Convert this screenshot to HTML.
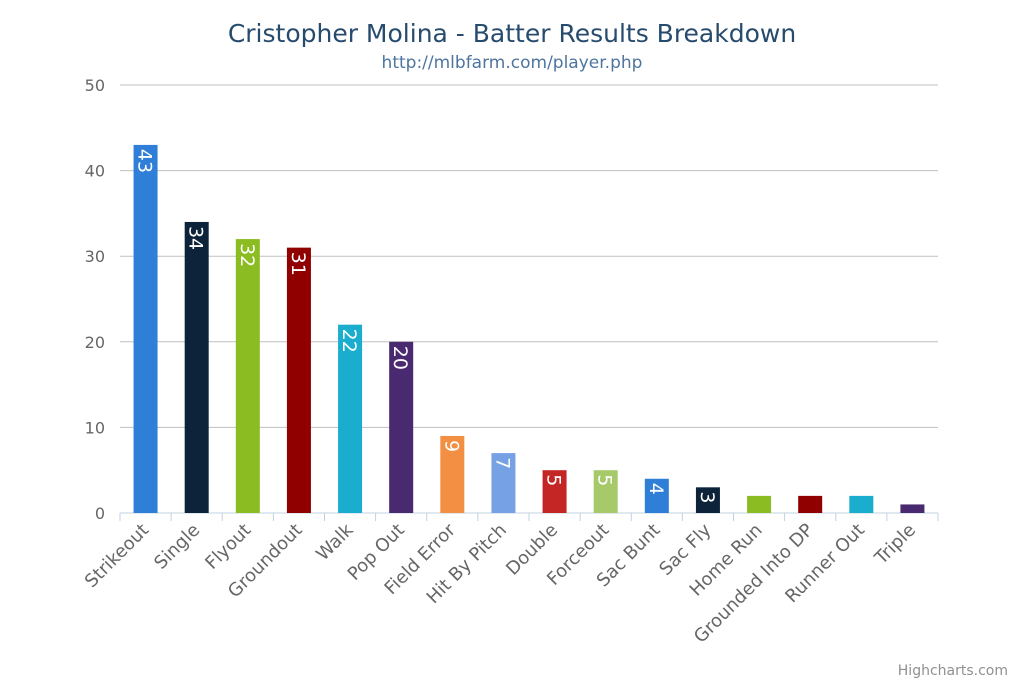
<!DOCTYPE html>
<html><head><meta charset="utf-8"><style>
body{margin:0;background:#fff;}
svg text{font-family:"DejaVu Sans","Liberation Sans",sans-serif;}
</style></head><body>
<svg id="chart" width="1024" height="682" xmlns="http://www.w3.org/2000/svg">
<defs><clipPath id="plotclip"><rect x="120" y="80" width="820" height="433"/></clipPath></defs>
<text x="512" y="42" text-anchor="middle" font-size="25" fill="#274b6d">Cristopher Molina - Batter Results Breakdown</text>
<text x="512" y="68" text-anchor="middle" font-size="17" fill="#4d759e">http://mlbfarm.com/player.php</text>
<g id="grid"></g><g id="bars"></g><g id="labels" clip-path="url(#plotclip)"></g><g id="xlabels"></g>
<text x="1008" y="675" text-anchor="end" font-size="14" fill="#909090">Highcharts.com</text>
</svg>
<script>
const categories=["Strikeout","Single","Flyout","Groundout","Walk","Pop Out","Field Error","Hit By Pitch","Double","Forceout","Sac Bunt","Sac Fly","Home Run","Grounded Into DP","Runner Out","Triple"];
const values=[43,34,32,31,22,20,9,7,5,5,4,3,2,2,2,1];
const yTicks=[0,10,20,30,40,50];
const colors=["#2f7ed8","#0d233a","#8bbc21","#910000","#1aadce","#492970","#f28f43","#77a1e5","#c42525","#a6c96a"];
const NS="http://www.w3.org/2000/svg";
const L=120,R=938,T=85,B=513,ymax=50;
const y=v=>B-(v/ymax)*(B-T);
const bw=(R-L)/categories.length;
const x=i=>L+bw*(i+0.5);
function mk(t,a,p){const e=document.createElementNS(NS,t);for(const k in a)e.setAttribute(k,a[k]);p.appendChild(e);return e;}
const g=document.getElementById('grid');
yTicks.forEach(v=>{
  const l=mk('line',{x1:L,x2:R,y1:y(v),y2:y(v),stroke:v===0?'#c0d0e0':'#c0c0c0','stroke-width':1},g);
  
  
  const t=mk('text',{x:L-15,y:y(v)+6,'text-anchor':'end','font-size':16,fill:'#666'},g);
  t.textContent=v;
  
  
});
categories.forEach((c,i)=>{
  const tk=mk('line',{x1:L+bw*(i+1),x2:L+bw*(i+1),y1:B,y2:B+8,stroke:'#c0d0e0'},g);
  
  
});
const tk0=mk('line',{x1:L,x2:L,y1:B,y2:B+8,stroke:'#c0d0e0'},g);


const bg=document.getElementById('bars'),lg=document.getElementById('labels'),xg=document.getElementById('xlabels');
values.forEach((v,i)=>{
  const bx=x(i)-12;
  const r=mk('rect',{x:bx,y:y(v),width:24,height:B-y(v),fill:colors[i%colors.length]},bg);
  
  
  if(v>=3){
    const t=mk('text',{transform:`translate(${x(i)-7},${y(v)+4}) rotate(90)`,'font-size':19,fill:'#fff'},lg);
    t.textContent=v;
    
    
  }
  const xl=mk('text',{transform:`translate(${x(i)+4},${B+18}) rotate(-45)`,'text-anchor':'end','font-size':18,fill:'#666'},xg);
  xl.textContent=categories[i];
  
  
});
</script>
</body></html>
